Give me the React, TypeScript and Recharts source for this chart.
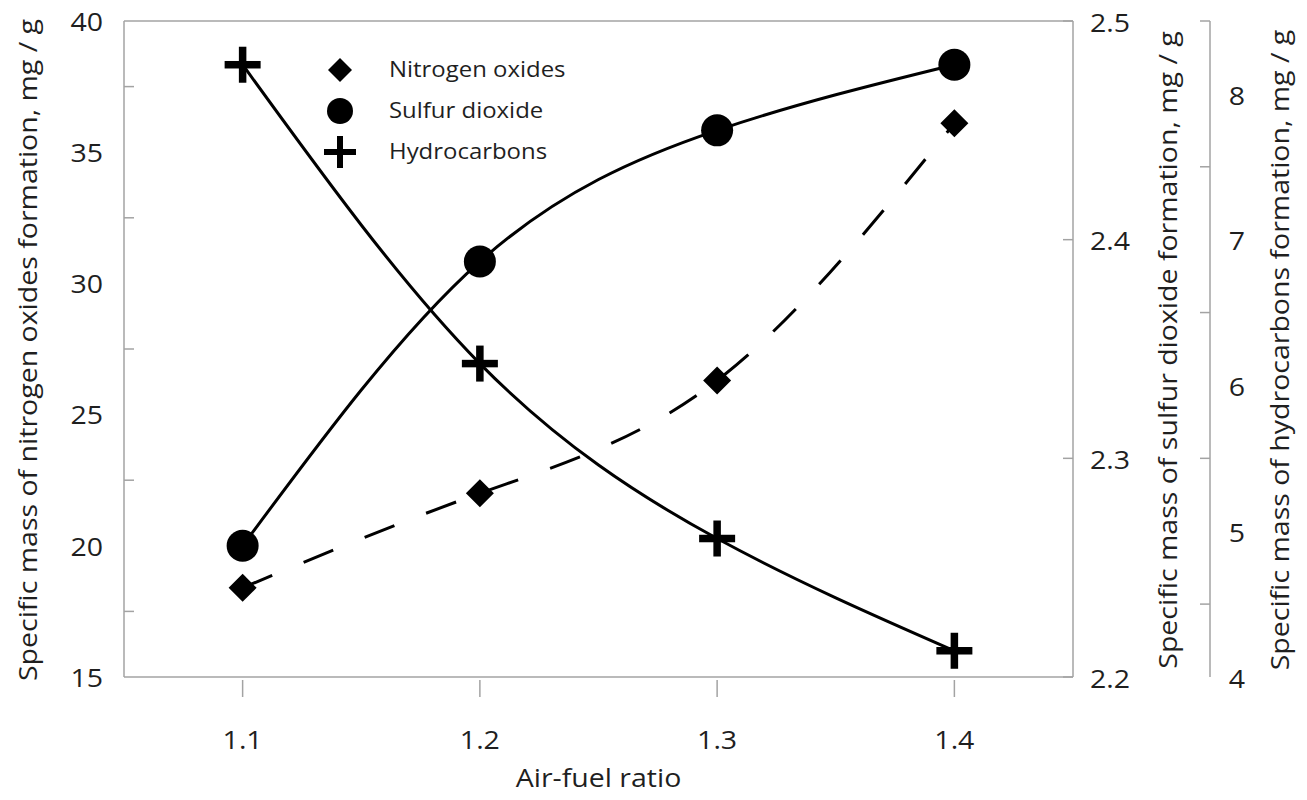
import {
  ComposedChart,
  Line,
  XAxis,
  YAxis,
  Legend,
  ReferenceLine,
} from "recharts";

const airFuelRatio = [1.1, 1.2, 1.3, 1.4];
const nitrogenOxides = [18.4, 22.0, 26.3, 36.1];
const sulfurDioxide = [2.26, 2.39, 2.45, 2.48];
const hydrocarbons = [8.2, 6.15, 4.95, 4.18];

const xTicks = [1.1, 1.2, 1.3, 1.4];
const noxTicks = [15, 17.5, 20, 22.5, 25, 27.5, 30, 32.5, 35, 37.5, 40];
const so2Ticks = [2.2, 2.3, 2.4, 2.5];
const hcTicks = [4, 4.5, 5, 5.5, 6, 6.5, 7, 7.5, 8, 8.5];

const legendNames = ["Nitrogen oxides", "Sulfur dioxide", "Hydrocarbons"];

const data = airFuelRatio.map((x, i) => ({
  x,
  nox: nitrogenOxides[i],
  so2: sulfurDioxide[i],
  hc: hydrocarbons[i],
}));

const AXIS = "#a3a3a3";
const INK = "#1f1f1f";
const FONT = "'Open Sans', 'Noto Sans', sans-serif";
// the original font runs wider than Open Sans, so stretch text along its baseline
const SX = 1.14;

function HText({ x, y, anchor = "middle", size = 25, children }: any) {
  return (
    <text
      transform={`translate(${x},${y}) scale(${SX},1)`}
      dy="0.35em"
      textAnchor={anchor}
      fontSize={size}
      fill={INK}
      fontFamily={FONT}
    >
      {children}
    </text>
  );
}

function Diamond({ cx, cy, s = 14 }: any) {
  return (
    <path
      d={`M${cx},${cy - s} L${cx + s},${cy} L${cx},${cy + s} L${cx - s},${cy} Z`}
      fill="#000"
    />
  );
}

function Dot({ cx, cy, r = 16 }: any) {
  return <circle cx={cx} cy={cy} r={r} fill="#000" />;
}

function Plus({ cx, cy, s = 18, w = 7.5 }: any) {
  return (
    <g>
      <rect x={cx - s} y={cy - w / 2} width={s * 2} height={w} fill="#000" />
      <rect x={cx - w / 2} y={cy - s} width={w} height={s * 2} fill="#000" />
    </g>
  );
}

const LeftTick = ({ x, y, payload }: any) => {
  const v = payload.value;
  if (v % 5 === 0)
    return (
      <HText x={x - 21} y={y + 1} anchor="end">
        {v}
      </HText>
    );
  return <line x1={x} x2={x + 10} y1={y} y2={y} stroke={AXIS} strokeWidth={1.5} />;
};

const So2Tick = ({ x, y, payload }: any) => (
  <g>
    <line x1={x - 10} x2={x} y1={y} y2={y} stroke={AXIS} strokeWidth={1.5} />
    <HText x={x + 17} y={y + 2} anchor="start">
      {payload.value.toFixed(1)}
    </HText>
  </g>
);

const HcTick = ({ x, y, payload }: any) => {
  const v = payload.value;
  if (Number.isInteger(v))
    return (
      <HText x={x + 27} y={y + 2}>
        {v}
      </HText>
    );
  return <line x1={x - 10} x2={x} y1={y} y2={y} stroke={AXIS} strokeWidth={1.5} />;
};

const XTick = ({ x, y, payload }: any) => (
  <g>
    <line x1={x} x2={x} y1={y + 3} y2={y + 20} stroke={AXIS} strokeWidth={1.5} />
    <HText x={x} y={y + 63}>
      {payload.value.toFixed(1)}
    </HText>
  </g>
);

function yTitle(text: string, dx: number) {
  return (props: any) => {
    const { x, y, height } = props.viewBox;
    const cx = x + dx;
    const cy = y + height / 2 + 1;
    return (
      <text
        transform={`translate(${cx},${cy}) rotate(-90) scale(${SX},1)`}
        textAnchor="middle"
        dominantBaseline="central"
        fontSize={25}
        fill={INK}
        fontFamily={FONT}
      >
        {text}
      </text>
    );
  };
}

function xTitle(props: any) {
  const { x, y, width } = props.viewBox;
  return (
    <HText x={x + width / 2} y={y + 101}>
      Air-fuel ratio
    </HText>
  );
}

function LegendBox() {
  const markers = [
    <Diamond cx={20} cy={15} s={12} />,
    <Dot cx={20} cy={56} r={13} />,
    <Plus cx={20} cy={97} s={16} w={6} />,
  ];
  return (
    <svg width={300} height={115}>
      {legendNames.map((name, i) => (
        <g key={name}>
          {markers[i]}
          <HText x={69} y={15 + i * 41} anchor="start" size={21}>
            {name}
          </HText>
        </g>
      ))}
    </svg>
  );
}

export default function App() {
  return (
    <div style={{ position: "absolute", left: 0, top: 0, width: 1307, height: 800, background: "#fff" }}>
      <ComposedChart width={1307} height={800} data={data} margin={{ top: 21, right: 0, bottom: 0, left: 0 }}>
        <XAxis
          dataKey="x"
          type="number"
          domain={[1.05, 1.45]}
          ticks={xTicks}
          interval={0}
          height={123}
          tickSize={0}
          tickMargin={0}
          tick={<XTick />}
          axisLine={{ stroke: AXIS, strokeWidth: 1.5 }}
          label={xTitle}
        />
        <YAxis
          yAxisId="left"
          orientation="left"
          width={124}
          domain={[15, 40]}
          ticks={noxTicks}
          interval={0}
          tickSize={0}
          tickMargin={0}
          tick={<LeftTick />}
          axisLine={{ stroke: AXIS, strokeWidth: 1.5 }}
          label={yTitle("Specific mass of nitrogen oxides formation, mg / g", 27)}
        />
        <YAxis
          yAxisId="r1"
          orientation="right"
          width={137}
          domain={[2.2, 2.5]}
          ticks={so2Ticks}
          interval={0}
          tickSize={0}
          tickMargin={0}
          tick={<So2Tick />}
          axisLine={{ stroke: AXIS, strokeWidth: 1.5 }}
          label={yTitle("Specific mass of sulfur dioxide formation, mg / g", 94)}
        />
        <YAxis
          yAxisId="r2"
          orientation="right"
          width={97}
          domain={[4, 8.5]}
          ticks={hcTicks}
          interval={0}
          tickSize={0}
          tickMargin={0}
          tick={<HcTick />}
          axisLine={{ stroke: AXIS, strokeWidth: 1.5 }}
          label={yTitle("Specific mass of hydrocarbons formation, mg / g", 69)}
        />
        <ReferenceLine yAxisId="left" y={40} stroke={AXIS} strokeWidth={1.5} />
        <Legend
          layout="vertical"
          align="center"
          verticalAlign="middle"
          wrapperStyle={{ left: 320, top: 55, width: 300 }}
          content={() => <LegendBox />}
        />
        <Line
          yAxisId="left"
          dataKey="nox"
          name="Nitrogen oxides"
          type="natural"
          stroke="#000"
          strokeWidth={3}
          strokeDasharray="32 34"
          dot={(p: any) => <Diamond key={p.index} cx={p.cx} cy={p.cy} />}
          isAnimationActive={false}
        />
        <Line
          yAxisId="r1"
          dataKey="so2"
          name="Sulfur dioxide"
          type="natural"
          stroke="#000"
          strokeWidth={3}
          dot={(p: any) => <Dot key={p.index} cx={p.cx} cy={p.cy} />}
          isAnimationActive={false}
        />
        <Line
          yAxisId="r2"
          dataKey="hc"
          name="Hydrocarbons"
          type="natural"
          stroke="#000"
          strokeWidth={3}
          dot={(p: any) => <Plus key={p.index} cx={p.cx} cy={p.cy} />}
          isAnimationActive={false}
        />
      </ComposedChart>
    </div>
  );
}
